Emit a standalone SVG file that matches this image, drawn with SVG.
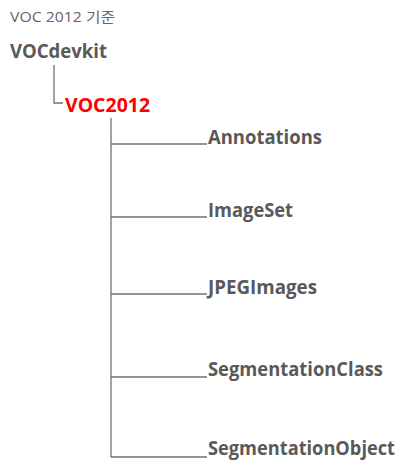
<svg xmlns="http://www.w3.org/2000/svg" width="403" height="465" viewBox="0 0 403 465">
<style>
.t{font-family:"Open Sans","Liberation Sans",sans-serif;font-weight:bold;font-size:20px;fill:#595959}
.r{fill:#ff0000}
.cap{font-family:"Open Sans","Noto Sans CJK KR",sans-serif;font-size:14px;fill:#666}
.c{stroke:#6f7478;stroke-width:1.3;fill:none}
</style>
<rect width="403" height="465" fill="#fff"/>
<text class="cap" x="10" y="22" textLength="105" lengthAdjust="spacingAndGlyphs">VOC 2012 기준</text>
<g id="n-vocdevkit"><text class="t" x="10" y="58" textLength="97" lengthAdjust="spacingAndGlyphs">VOCdevkit</text></g>
<g id="n-voc2012"><text class="t r" x="65" y="112" textLength="85" lengthAdjust="spacingAndGlyphs">VOC2012</text></g>
<g id="n-annotations"><text class="t" x="208" y="144" textLength="114" lengthAdjust="spacingAndGlyphs">Annotations</text></g>
<g id="n-imageset"><text class="t" x="208" y="217" textLength="85" lengthAdjust="spacingAndGlyphs">ImageSet</text></g>
<g id="n-jpegimages"><text class="t" x="208" y="294" textLength="109" lengthAdjust="spacingAndGlyphs">JPEGImages</text></g>
<g id="n-segclass"><text class="t" x="208" y="376" textLength="175" lengthAdjust="spacingAndGlyphs">SegmentationClass</text></g>
<g id="n-segobject"><text class="t" x="208" y="455" font-size="18" textLength="187" lengthAdjust="spacingAndGlyphs">SegmentationObject</text></g>
<g id="connectors">
<path class="c" d="M54 65V103H63"/>
<path class="c" d="M111 118V457"/>
<path class="c" d="M111 144H207M111 217H207M111 294H207M111 377H207M111 457H207"/>
</g>
</svg>
